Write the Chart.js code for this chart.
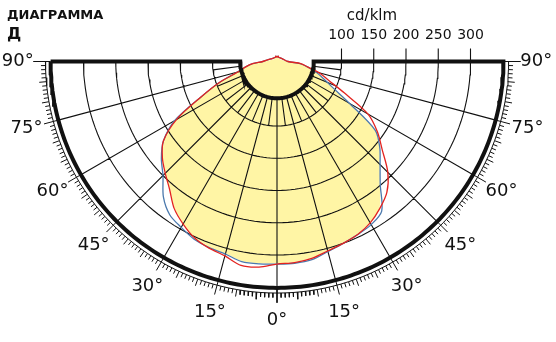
<!DOCTYPE html>
<html lang="ru">
<head>
<meta charset="UTF-8">
<title>Диаграмма Д</title>
<script src="https://cdn.jsdelivr.net/npm/chart.js"></script>
<style>
  html, body { margin: 0; padding: 0; background: #fff; }
  #wrap { width: 556px; height: 342px; }
</style>
</head>
<body>
<div id="wrap"><canvas id="chart" width="556" height="342"></canvas></div>
<script>
  // углы от надира, градусы: минус - левая половина, плюс - правая
  const angles = [-200, -160, -120,
    -90, -85, -80, -75, -70, -65, -60, -55, -50, -45, -40, -35, -30, -25, -20, -15, -10, -5,
    0,
    5, 10, 15, 20, 25, 30, 35, 40, 45, 50, 55, 60, 65, 70, 75, 80, 85, 90,
    120, 160, 200];

  // cd/klm
  const redValues = [9, 7, 9,
    22, 38, 50, 63, 95, 130, 180, 215, 232, 245, 259, 278, 291, 302, 308, 312, 321, 320,
    314,
    313, 310, 304, 300, 296, 289, 278, 265, 243, 213, 190, 163, 115, 85, 68, 48, 37, 17,
    9, 7, 9];

  const blueValues = [9, 7, 9,
    22, 38, 50, 64, 95, 130, 183, 215, 234, 250, 274, 290, 297, 304, 307, 309, 315, 315,
    314,
    314, 312, 305, 300, 296, 292, 283, 249, 226, 208, 186, 130, 95, 76, 62, 48, 36, 17,
    9, 7, 9];

  const fillValues = [6, 6, 6,
    20, 37, 49, 62, 94, 128, 179, 213, 231, 244, 258, 277, 290, 301, 306, 308, 314, 314,
    313,
    312, 309, 303, 299, 295, 288, 277, 248, 225, 207, 185, 130, 94, 75, 61, 47, 35, 16,
    6, 6, 6];

  const ringValues = [100, 150, 200, 250, 300];
  const outerValue = 351;
  const holeValue = 57;
  const spokeAngles = [-75, -60, -45, -30, -15, 0, 15, 30, 45, 60, 75];
  const shortSpokeAngles = [-82.5, -67.5, -52.5, -37.5, -22.5, -7.5, 7.5, 22.5, 37.5, 52.5, 67.5, 82.5];
  const degreeLabels = [-90, -75, -60, -45, -30, -15, 0, 15, 30, 45, 60, 75, 90];
  const unitLabel = 'cd/klm';
  const titleLines = ['ДИАГРАММА', 'Д'];

  const labelRadius = 402;
  const tickBase = 359;

  // полярные -> декартовы (y вверх)
  function pt(a, v) {
    const t = a * Math.PI / 180;
    return { x: v * Math.sin(t), y: -v * Math.cos(t) };
  }
  const gap = { x: null, y: null };

  function curve(vals) {
    return angles.map((a, i) => pt(a, vals[i]));
  }

  // сетка
  const gridData = [];
  ringValues.forEach(v => {
    for (let a = -90; a <= 90; a += 2) gridData.push(pt(a, v));
    gridData.push(gap);
  });
  spokeAngles.forEach(a => {
    gridData.push(pt(a, holeValue), pt(a, outerValue), gap);
  });
  shortSpokeAngles.forEach(a => {
    gridData.push(pt(a, holeValue), pt(a, ringValues[0]), gap);
  });
  // штрихи над шкалой
  ringValues.forEach(v => {
    gridData.push({ x: v, y: 0 }, { x: v, y: 20 }, gap);
  });

  // шкала градусов снаружи
  const tickData = [];
  for (let a = -90; a <= 90; a += 2) tickData.push(pt(a, tickBase));
  tickData.push(gap);
  for (let a = -90; a <= 90; a++) {
    let len = 366;
    if (a % 5 === 0) len = 370;
    if (a % 15 === 0) len = 374;
    if (Math.abs(a) === 90) len = 378;
    const from = a % 15 === 0 ? outerValue : tickBase;
    tickData.push(pt(a, from), pt(a, len), gap);
  }

  // толстый контур
  const outlineData = [{ x: -outerValue, y: 0 }, { x: -holeValue, y: 0 }];
  for (let a = -90; a <= 90; a += 2) outlineData.push(pt(a, holeValue));
  outlineData.push({ x: outerValue, y: 0 });
  for (let a = 90; a >= -90; a -= 1) outlineData.push(pt(a, outerValue));

  const labelsPlugin = {
    id: 'labels',
    afterDatasetsDraw(chart) {
      const { ctx, scales: { x, y } } = chart;
      ctx.save();
      ctx.fillStyle = '#111';
      ctx.textAlign = 'center';
      ctx.textBaseline = 'middle';
      ctx.font = '18px "DejaVu Sans"';
      degreeLabels.forEach(a => {
        const p = pt(a, labelRadius);
        ctx.fillText(Math.abs(a) + '°', x.getPixelForValue(p.x), y.getPixelForValue(p.y));
      });
      ctx.font = '14px "DejaVu Sans"';
      ringValues.forEach(v => {
        ctx.fillText(String(v), x.getPixelForValue(v), y.getPixelForValue(41));
      });
      ctx.font = '15px "DejaVu Sans"';
      ctx.fillText(unitLabel, 372, 16);
      ctx.textAlign = 'left';
      ctx.textBaseline = 'alphabetic';
      ctx.font = 'bold 13px "DejaVu Sans"';
      ctx.fillText(titleLines[0], 7, 19);
      ctx.font = 'bold 16px "DejaVu Sans"';
      ctx.fillText(titleLines[1], 7, 39);
      ctx.restore();
    }
  };

  const k = 0.645; // px на единицу
  const cx = 277, cy = 61.5;

  new Chart(document.getElementById('chart'), {
    type: 'scatter',
    data: {
      datasets: [
        { data: outlineData, showLine: true, borderColor: '#111', borderWidth: 4, pointRadius: 0, order: 0 },
        { data: curve(redValues), showLine: true, borderColor: '#e3231f', borderWidth: 1.3, pointRadius: 0, tension: 0.3, order: 1 },
        { data: curve(blueValues), showLine: true, borderColor: '#4b79ad', borderWidth: 1.3, pointRadius: 0, tension: 0.3, order: 2 },
        { data: tickData, showLine: true, borderColor: '#111', borderWidth: 1, pointRadius: 0, order: 3 },
        { data: gridData, showLine: true, borderColor: '#111', borderWidth: 1.1, pointRadius: 0, order: 4 },
        { data: curve(fillValues), showLine: true, borderWidth: 0, borderColor: 'rgba(0,0,0,0)',
          backgroundColor: '#fff5a5', fill: 'shape', pointRadius: 0, tension: 0.3, order: 5 }
      ]
    },
    options: {
      responsive: false,
      animation: false,
      layout: { padding: 0 },
      scales: {
        x: { type: 'linear', display: false, min: -cx / k, max: (556 - cx) / k },
        y: { type: 'linear', display: false, min: -(342 - cy) / k, max: cy / k }
      },
      plugins: { legend: { display: false }, tooltip: { enabled: false } }
    },
    plugins: [labelsPlugin]
  });
</script>
</body>
</html>
